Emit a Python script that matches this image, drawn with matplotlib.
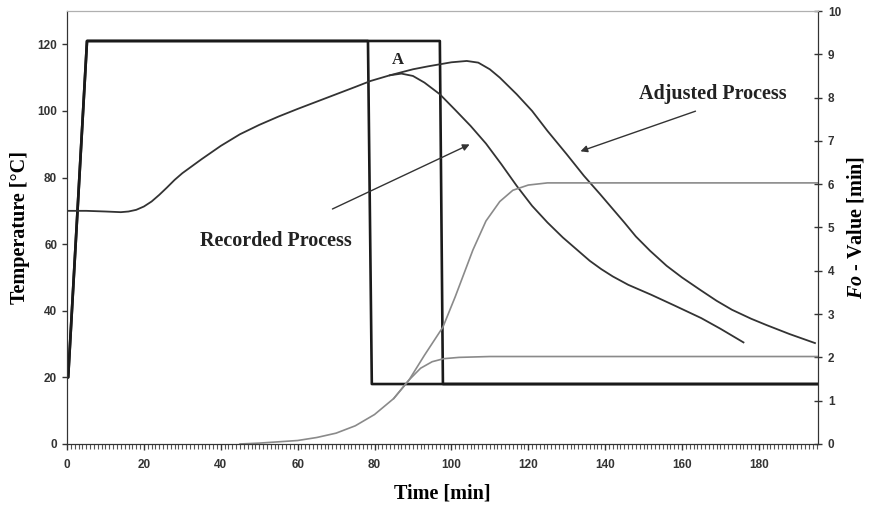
import numpy as np
import matplotlib
matplotlib.use("Agg")
import matplotlib.pyplot as plt
from matplotlib.ticker import MultipleLocator

plt.rcParams['mathtext.fontset'] = 'custom'
plt.rcParams['mathtext.it'] = 'Liberation Serif:italic:bold'
plt.rcParams['mathtext.rm'] = 'Liberation Serif:bold'

# sterilizer temperature (recorded / adjusted)
t_ster_rec = [0, 0.3, 5.2, 78.3, 79.3, 195.4]
T_ster_rec = [20, 20, 121, 121, 18, 18]
t_ster_adj = [0, 0.3, 5.2, 97.0, 97.8, 195.4]
T_ster_adj = [20, 20, 121, 121, 18, 18]

# product temperature, recorded process
t_rec = [0, 5, 10, 14, 16, 18, 20, 22, 24, 26, 28, 30, 35, 40, 45, 50, 55, 60,
         65, 70, 75, 79, 84, 87, 90, 93, 97, 101, 105, 109, 113, 117, 121, 125,
         129, 133, 136, 139, 142, 146, 152, 158, 165, 170, 176]
T_rec = [70, 70, 69.8, 69.6, 69.8, 70.3, 71.3, 72.8, 74.8, 77, 79.3, 81.3, 85.5,
         89.5, 93, 95.8, 98.3, 100.6, 102.8, 105, 107.2, 109, 110.7, 111.2,
         110.5, 108.5, 105, 100.3, 95.5, 90.2, 84, 77.5, 71.5, 66.5, 62, 58, 55,
         52.5, 50.3, 47.8, 44.8, 41.6, 37.8, 34.6, 30.5]

# product temperature, adjusted process
t_adj = [84, 87, 90, 94, 97, 100, 104, 107, 110, 112.6, 117, 121, 125, 130,
         134.5, 138.7, 145, 148, 151.7, 156, 160, 164.7, 169, 173, 178, 182,
         188, 194.6]
T_adj = [110.7, 111.6, 112.5, 113.4, 114, 114.6, 115, 114.5, 112.5, 110, 105,
         100, 94, 87, 80.5, 75, 66.5, 62.3, 58, 53.5, 50, 46.3, 43, 40.3, 37.6,
         35.7, 33, 30.3]

# Fo values
t_fo_adj = [45, 50, 55, 60, 65, 70, 75, 80, 85, 89, 93, 97.8, 101, 105.6, 109,
            112.6, 116, 120, 125, 195.4]
fo_adj = [0, 0.02, 0.05, 0.08, 0.15, 0.25, 0.42, 0.68, 1.05, 1.48, 2.05, 2.7,
          3.4, 4.48, 5.15, 5.6, 5.86, 5.98, 6.03, 6.03]
t_fo_rec = [85, 89, 92, 95, 98, 102, 110, 195.4]
fo_rec = [1.05, 1.48, 1.75, 1.9, 1.97, 2.0, 2.02, 2.02]

fig = plt.figure(figsize=(8.75, 5.07), dpi=100)
ax = fig.add_axes([0.0766, 0.1243, 0.8583, 0.854])
ax2 = ax.twinx()

ax.plot(t_ster_adj, T_ster_adj, color='#1a1a1a', lw=1.9)
ax.plot(t_ster_rec, T_ster_rec, color='#1a1a1a', lw=1.9)
ax.plot(t_rec, T_rec, color='#333333', lw=1.3)
ax.plot(t_adj, T_adj, color='#333333', lw=1.3)

ax2.plot(t_fo_adj, fo_adj, color='#8a8a8a', lw=1.2)
ax2.plot(t_fo_rec, fo_rec, color='#8a8a8a', lw=1.2)

ax.set_xlim(0, 195.4)
ax.set_ylim(0, 130)
ax2.set_ylim(0, 10)

ax.set_xticks(np.arange(0, 181, 20))
ax.xaxis.set_minor_locator(MultipleLocator(1))
ax.set_yticks(np.arange(0, 121, 20))
ax2.set_yticks(np.arange(0, 11, 1))

for lab in ax.get_xticklabels() + ax.get_yticklabels() + ax2.get_yticklabels():
    lab.set_fontfamily('Liberation Sans')
    lab.set_fontweight('bold')
    lab.set_fontsize(8.5)
    lab.set_color('#333333')

ax.tick_params(axis='x', which='major', direction='out', length=4, width=1, pad=7, color='#333333')
ax.tick_params(axis='x', which='minor', direction='out', length=3.5, width=0.8, color='#555555')
ax.tick_params(axis='y', direction='out', length=3.6, width=1, pad=3.5, color='#333333')
ax2.tick_params(axis='y', direction='inout', length=6, width=1, pad=4, color='#333333')

for a in (ax, ax2):
    a.spines['top'].set_color('#b0b0b0')
    a.spines['left'].set_color('#333333')
    a.spines['right'].set_color('#333333')
    a.spines['bottom'].set_color('#333333')

label_font = dict(family='Liberation Serif', weight='bold', size=14.5)
ax.set_xlabel('Time [min]', fontdict=label_font, labelpad=9)
ax.set_ylabel('Temperature [°C]', fontdict=label_font, labelpad=5)
ax2.set_ylabel(r'$\mathit{Fo}$ - Value [min]', fontdict=label_font, labelpad=3)

ax.text(86.1, 115.2, 'A', ha='center', va='center', family='Liberation Serif',
        weight='bold', size=12, color='#222222')
ax.text(54.4, 60.9, 'Recorded Process', ha='center', va='center',
        family='Liberation Serif', weight='bold', size=14.5, color='#222222')
ax.text(168, 105, 'Adjusted Process', ha='center', va='center',
        family='Liberation Serif', weight='bold', size=14.5, color='#222222')

arrow = dict(arrowstyle='-|>', color='#333333', lw=1, mutation_scale=10)
ax.annotate('', xy=(105.4, 90.3), xytext=(68.4, 70.2), arrowprops=arrow)
ax.annotate('', xy=(132.9, 87.6), xytext=(164.2, 100.2), arrowprops=arrow)

fig.savefig('out.png', dpi=100)
